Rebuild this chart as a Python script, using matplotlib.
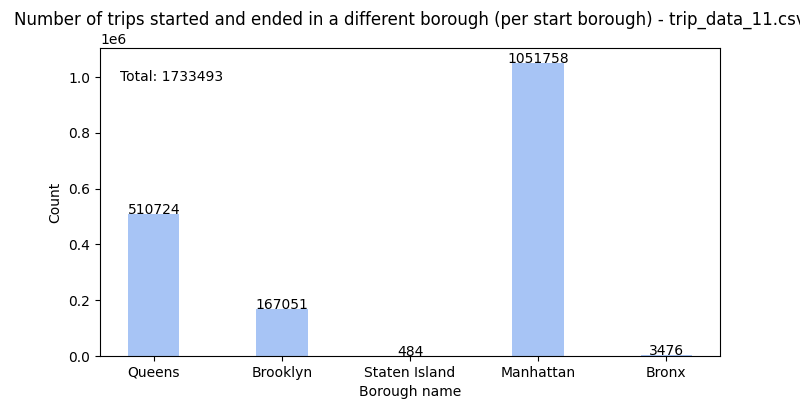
import matplotlib
matplotlib.use("Agg")
import matplotlib.pyplot as plt

boroughs = ["Queens", "Brooklyn", "Staten Island", "Manhattan", "Bronx"]
counts = [510724, 167051, 484, 1051758, 3476]
total = 1733493

fig, ax = plt.subplots(figsize=(8, 4), dpi=100)
ax.bar(boroughs, counts, width=0.4, color="#a7c4f5")
for i, v in enumerate(counts):
    ax.text(i, v, str(v), ha="center")
ax.text(-0.26, 1.0e6, f"Total: {total}", va="center")
ax.set_title("Number of trips started and ended in a different borough (per start borough) - trip_data_11.csv")
ax.set_xlabel("Borough name")
ax.set_ylabel("Count")
fig.savefig("out.png")
